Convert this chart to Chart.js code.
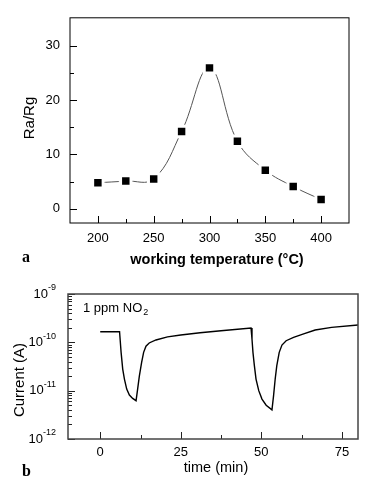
<!DOCTYPE html>
<html><head><meta charset="utf-8">
<script src="https://cdn.jsdelivr.net/npm/chart.js@4"></script>
<style>
html,body{margin:0;padding:0;background:#fff;width:379px;height:484px;overflow:hidden}
#wa{position:absolute;left:0;top:0;width:379px;height:280px}
#wb{position:absolute;left:0;top:280px;width:379px;height:204px}
.lab{position:absolute;font:bold 16px "Liberation Serif",serif;color:#000;line-height:16px}
</style></head><body>
<div id="wa"><canvas id="ca" width="379" height="280"></canvas></div>
<div id="wb"><canvas id="cb" width="379" height="204"></canvas></div>
<div class="lab" style="left:22px;top:249px">a</div>
<div class="lab" style="left:22px;top:463px">b</div>
<script>
// ---- Panel a data ----
const temps = [200, 225, 250, 275, 300, 325, 350, 375, 400];
const ratio = [4.8, 5.1, 5.5, 14.2, 25.9, 12.4, 7.1, 4.1, 1.7];
const xTicksA = [200, 250, 300, 350, 400];
const xMinorA = [225, 275, 325, 375];
const yTicksA = [0, 10, 20, 30];
const yMinorA = [5, 15, 25];

// ---- Panel b data ----
const timeMin = [0, 6.0, 6.17, 6.48, 6.98, 7.51, 8.22, 9.05, 10.07, 11.12,
                 11.61, 12.14, 12.85, 13.47, 14.2, 15.2, 17.3, 20.9, 25, 31, 37.5, 46.8,
                 47.1, 47.4, 47.84, 48.35, 49.2, 50.2, 51.5, 53.3,
                 53.8, 54.3, 54.8, 55.55, 56.4, 57.7, 60.0, 62.9, 66.7, 71.8, 80];
const current = [1.66e-10, 1.66e-10, 1.17e-10, 6.2e-11, 2.8e-11, 1.74e-11, 1.08e-11, 8.1e-12, 6.9e-12, 6.2e-12,
                 1.08e-11, 2.0e-11, 3.85e-11, 6.2e-11, 8.3e-11, 9.7e-11, 1.12e-10, 1.3e-10, 1.42e-10, 1.58e-10, 1.74e-10, 1.98e-10,
                 1.17e-10, 6.2e-11, 3.3e-11, 1.74e-11, 1.0e-11, 6.7e-12, 5.0e-12, 4.0e-12,
                 7.9e-12, 1.74e-11, 3.3e-11, 6.2e-11, 8.8e-11, 1.08e-10, 1.27e-10, 1.48e-10, 1.8e-10, 2.04e-10, 2.28e-10];
const xTicksB = [0, 25, 50, 75];
const xMinorB = [12.5, 37.5, 62.5];
const yDecadesB = [-12, -11, -10, -9];

const FONT = "'Liberation Sans', Arial, sans-serif";

const framePlugin = {
  id: 'frame',
  afterDraw(chart, args, o) {
    const {ctx, chartArea: a, scales} = chart;
    ctx.save();
    ctx.strokeStyle = o.tickColor;
    ctx.lineWidth = 1;
    ctx.beginPath();
    const xt = (vals, len) => vals.forEach(v => {
      const x = Math.round(scales.x.getPixelForValue(v)) + 0.5;
      ctx.moveTo(x, a.bottom); ctx.lineTo(x, a.bottom - len);
    });
    const yt = (vals, len) => vals.forEach(v => {
      const y = Math.round(scales.y.getPixelForValue(v)) + 0.5;
      ctx.moveTo(a.left, y); ctx.lineTo(a.left + len, y);
    });
    xt(o.xMajor, 7); xt(o.xMinor, 4);
    yt(o.yMajor, 7); yt(o.yMinor, 4);
    ctx.stroke();
    ctx.strokeStyle = o.color;
    ctx.lineWidth = o.width;
    ctx.strokeRect(a.left, a.top, a.right - a.left, a.bottom - a.top);
    (o.texts || []).forEach(t => {
      ctx.save();
      ctx.fillStyle = '#000';
      ctx.font = t.font;
      ctx.textAlign = 'center';
      ctx.textBaseline = 'middle';
      ctx.translate(t.x, t.y);
      if (t.rot) ctx.rotate(t.rot);
      ctx.fillText(t.text, 0, 0);
      ctx.restore();
    });
    if (o.after) o.after(chart);
    ctx.restore();
  }
};

// Panel a
new Chart(document.getElementById('ca'), {
  type: 'line',
  data: {
    datasets: [{
      data: temps.map((t, i) => ({x: t, y: ratio[i]})),
      borderColor: '#555',
      borderWidth: 1,
      tension: 0.4,
      pointStyle: 'rect',
      pointRadius: 7.4,
      pointBackgroundColor: '#000',
      pointBorderColor: '#fff',
      pointBorderWidth: 3,
      clip: false
    }]
  },
  options: {
    responsive: false,
    animation: false,
    devicePixelRatio: 1,
    layout: {padding: {top: 8, right: 30, left: 0, bottom: 0}},
    plugins: {
      legend: {display: false}, tooltip: {enabled: false},
      frame: {
        color: '#000', width: 1, tickColor: '#000',
        xMajor: xTicksA, xMinor: xMinorA, yMajor: yTicksA, yMinor: yMinorA,
        texts: [
          {text: 'Ra/Rg', x: 30, y: 118, rot: -Math.PI / 2, font: `15px ${FONT}`},
          {text: 'working temperature (°C)', x: 217, y: 260, font: `bold 14.5px ${FONT}`}
        ]
      }
    },
    scales: {
      x: {
        type: 'linear', min: 175, max: 425,
        afterBuildTicks: s => { s.ticks = xTicksA.map(v => ({value: v})); },
        afterFit: s => { s.height = 57; },
        ticks: {font: {family: FONT, size: 13}, color: '#000', padding: 8, maxRotation: 0, autoSkip: false},
        grid: {display: false, drawTicks: false},
        border: {display: false}
      },
      y: {
        type: 'linear', min: -2.6, max: 35.1,
        afterBuildTicks: s => { s.ticks = yTicksA.map(v => ({value: v})); },
        afterFit: s => { s.width = 70; },
        ticks: {font: {family: FONT, size: 13}, color: '#000', padding: 10},
        grid: {display: false, drawTicks: false},
        border: {display: false}
      }
    }
  },
  plugins: [framePlugin]
});

// Panel b
const logMinor = [];
yDecadesB.slice(0, -1).forEach(d => { for (let k = 2; k <= 9; k++) logMinor.push(k * Math.pow(10, d)); });

new Chart(document.getElementById('cb'), {
  type: 'line',
  data: {
    datasets: [{
      data: timeMin.map((t, i) => ({x: t, y: current[i]})),
      borderColor: '#000',
      borderWidth: 1.4,
      tension: 0,
      pointRadius: 0
    }]
  },
  options: {
    responsive: false,
    animation: false,
    devicePixelRatio: 1,
    layout: {padding: {top: 14, right: 21, left: 0, bottom: 0}},
    plugins: {
      legend: {display: false}, tooltip: {enabled: false},
      frame: {
        color: '#444', width: 1.5, tickColor: '#222',
        xMajor: xTicksB, xMinor: xMinorB,
        yMajor: yDecadesB.map(d => Math.pow(10, d)), yMinor: logMinor,
        texts: [
          {text: 'Current (A)', x: 20, y: 100, rot: -Math.PI / 2, font: `15px ${FONT}`},
          {text: 'time (min)', x: 216, y: 188, font: `14.5px ${FONT}`}
        ],
        after: chart => {
          const {ctx, scales, chartArea: a} = chart;
          ctx.fillStyle = '#000';
          ctx.textBaseline = 'middle';
          yDecadesB.forEach(d => {
            const y = scales.y.getPixelForValue(Math.pow(10, d));
            ctx.font = `9px ${FONT}`;
            ctx.textAlign = 'right';
            const sup = '-' + Math.abs(d);
            ctx.fillText(sup, a.left - 12, y - 6);
            const w = ctx.measureText(sup).width;
            ctx.font = `13px ${FONT}`;
            ctx.fillText('10', a.left - 12 - w, y);
          });
          ctx.textAlign = 'left';
          ctx.font = `13px ${FONT}`;
          ctx.fillText('1 ppm NO', 83, 28);
          const w = ctx.measureText('1 ppm NO').width;
          ctx.font = `9px ${FONT}`;
          ctx.fillText('2', 83 + w + 1, 33);
        }
      }
    },
    scales: {
      x: {
        type: 'linear', min: -10, max: 80,
        afterBuildTicks: s => { s.ticks = xTicksB.map(v => ({value: v})); },
        afterFit: s => { s.height = 45; },
        ticks: {font: {family: FONT, size: 13}, color: '#000', padding: 6, maxRotation: 0, autoSkip: false},
        grid: {display: false, drawTicks: false},
        border: {display: false}
      },
      y: {
        type: 'logarithmic', min: 1e-12, max: 1e-9,
        afterBuildTicks: s => { s.ticks = yDecadesB.map(d => ({value: Math.pow(10, d)})); },
        afterFit: s => { s.width = 68; },
        ticks: {display: false},
        grid: {display: false, drawTicks: false},
        border: {display: false}
      }
    }
  },
  plugins: [framePlugin]
});
</script>
</body></html>
